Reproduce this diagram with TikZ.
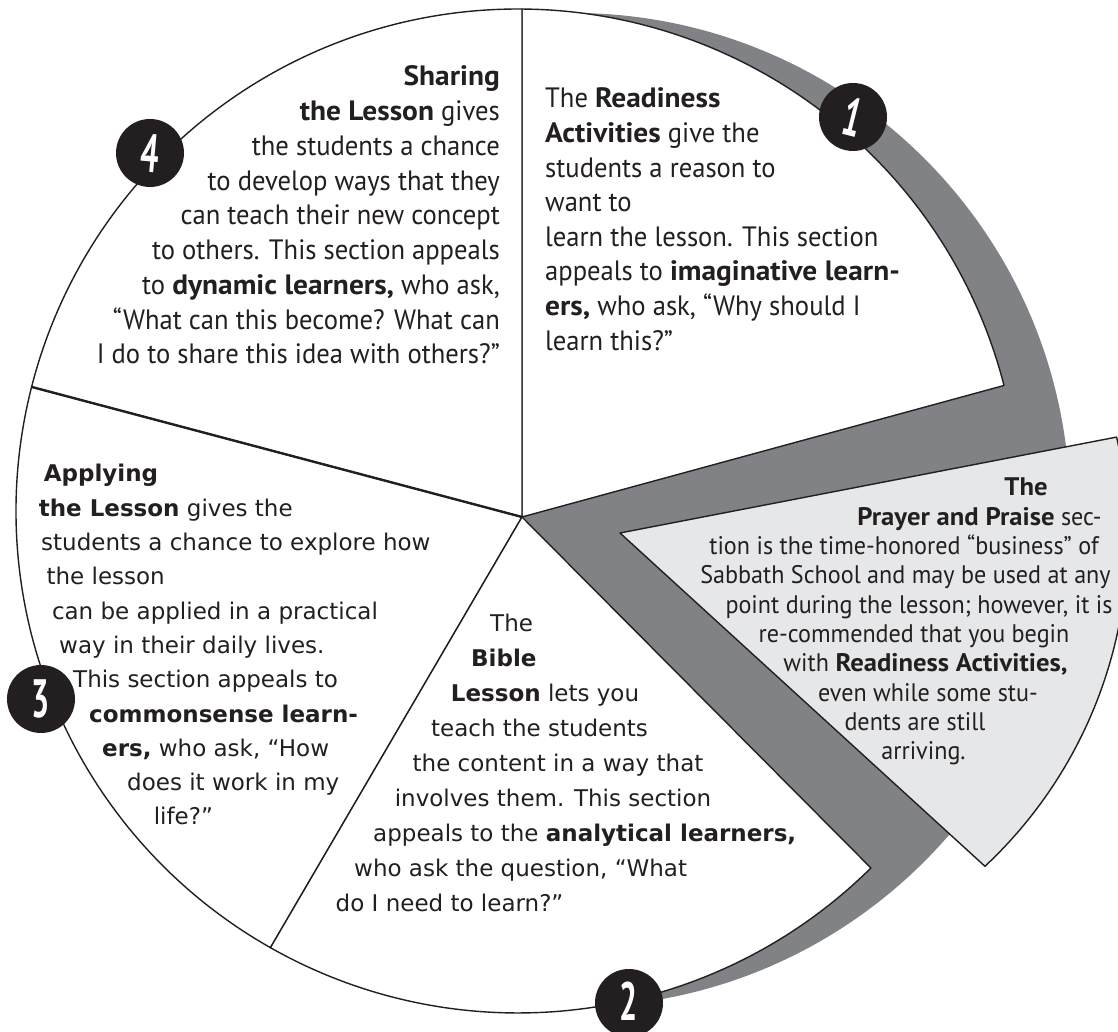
\documentclass[tikz,border=0pt]{standalone}
\usepackage{fontspec}
\setmainfont{PT Sans}
\newfontfamily\myr{PT Sans}[UprightFeatures={FakeStretch=0.95}, BoldFeatures={FakeStretch=1.05}]
\newfontfamily\badgefont{PT Sans}
\newfontfamily\verd{DejaVu Sans}
\usetikzlibrary{calc}
\definecolor{ink}{HTML}{231F20}
\definecolor{band}{HTML}{808285}
\definecolor{wedgegray}{HTML}{E6E7E8}
\begin{document}
\begin{tikzpicture}[x=1pt,y=1pt,
  edgeln/.style={draw=ink, line width=1.4pt, line join=round},
  sectfill/.style={fill=white, edgeln},
  badgenode/.style={circle, fill=ink, minimum size=68pt, inner sep=0pt, text=white,
     font=\badgefont\bfseries\fontsize{40}{40}\selectfont},
  mtxt/.style={inner sep=0pt, text=ink, font=\myr\fontsize{28}{35}\selectfont},
  vtxt/.style={inner sep=0pt, text=ink, anchor=base west, font=\verd\fontsize{23}{34}\selectfont},
  ptxt/.style={inner sep=0pt, text=ink, anchor=base, font=\myr\fontsize{25.4}{29}\selectfont}
]
\useasboundingbox[fill=white] (0,0) rectangle (1118,1032);

\coordinate (C) at (518,521);
\coordinate (H) at (522,515);
\coordinate (G) at (573,522);
\coordinate (L) at (620,499);
\coordinate (W) at (676.8,495);
\coordinate (Ptop) at ($(C)+(89.54:502pt)$);
\coordinate (P1) at ($(C)+(14.48:502pt)$);
\coordinate (P2) at ($(C)+(314.67:502pt)$);
\coordinate (P3) at ($(C)+(240.45:502pt)$);
\coordinate (P4) at ($(C)+(165.69:502pt)$);
\coordinate (U) at ($(W)+(12.8:451pt)$);

% gray band
\fill[band] (G) circle[radius=497pt];

% white sectors
\path[sectfill] (H) -- (Ptop) arc[start angle=89.54, end angle=14.48, radius=502pt] -- cycle;
\path[sectfill] (H) -- (P4) arc[start angle=165.69, end angle=89.54, radius=502pt] -- cycle;
\path[sectfill] (H) -- (P3) arc[start angle=240.45, end angle=165.69, radius=502pt] -- cycle;
\path[sectfill] (H) -- (P2) arc[start angle=314.67, end angle=240.45, radius=502pt] -- cycle;
\draw[draw=ink, line width=2.4pt] (H) -- (P4);

% prayer wedge
\path[fill=wedgegray, edgeln] (L) -- (U) arc[start angle=12.8, end angle=-46.9, radius=451pt] -- cycle;

% badges
\node[badgenode] (b1) at (853,915) {\rotatebox{-14}{\scalebox{0.8}[1.35]{1}}};
\node[badgenode] (b2) at (629,29) {\raisebox{3pt}{\scalebox{0.8}[1.35]{2}}};
\node[badgenode] (b3) at (41,333) {\scalebox{0.8}[1.35]{3}};
\node[badgenode] (b4) at (150,879) {\rotatebox{-5}{\scalebox{0.8}[1.35]{4}}};

% section 4: Sharing the Lesson
\node[mtxt, anchor=base east] (s4a) at (500,946) {\textbf{Sharing}};
\node[mtxt, anchor=base east] (s4b) at (500,911.25) {\textbf{the Lesson} gives};
\node[mtxt, anchor=base east] (s4c) at (500,876.5) {the students a chance};
\node[mtxt, anchor=base east] (s4d) at (500,841.75) {to develop ways that they};
\node[mtxt, anchor=base east] (s4e) at (500,807) {can teach their new concept};
\node[mtxt, anchor=base east] (s4f) at (500,772.25) {to others. This section appeals};
\node[mtxt, anchor=base east] (s4g) at (500,737.5) {to \textbf{dynamic learners,} who ask,};
\node[mtxt, anchor=base east] (s4h) at (500,702.75) {“What can this become? What can};
\node[mtxt, anchor=base east] (s4i) at (500,668) {I do to share this idea with others?”};

% section 1: Readiness Activities
\node[mtxt, anchor=base west] (s1a) at (545,924) {The \textbf{Readiness}};
\node[mtxt, anchor=base west] (s1b) at (545,889.4) {\textbf{Activities} give the};
\node[mtxt, anchor=base west] (s1c) at (545,854.8) {students a reason to};
\node[mtxt, anchor=base west] (s1d) at (545,820.2) {want to};
\node[mtxt, anchor=base west] (s1e) at (545,785.6) {learn the lesson. This section};
\node[mtxt, anchor=base west] (s1f) at (545,751) {appeals to \textbf{imaginative learn-}};
\node[mtxt, anchor=base west] (s1g) at (545,716.4) {\textbf{ers,} who ask, “Why should I};
\node[mtxt, anchor=base west] (s1h) at (545,681.8) {learn this?”};

% section 3: Applying the Lesson
\node[vtxt] (s3a) at (43.6,550) {\textbf{Applying}};
\node[vtxt] (s3b) at (38.6,515.7) {\textbf{the Lesson} gives the};
\node[vtxt] (s3c) at (41,481.4) {students a chance to explore how};
\node[vtxt] (s3d) at (46.4,447.1) {the lesson};
\node[vtxt] (s3e) at (51.8,412.8) {can be applied in a practical};
\node[vtxt] (s3f) at (59,378.5) {way in their daily lives.};
\node[vtxt] (s3g) at (73,344.2) {This section appeals to};
\node[vtxt] (s3h) at (89,309.9) {\textbf{commonsense learn-}};
\node[vtxt] (s3i) at (102,275.6) {\textbf{ers,} who ask, “How};
\node[vtxt] (s3j) at (127,241.3) {does it work in my};
\node[vtxt] (s3k) at (153.6,207) {life?”};

% section 2: Bible Lesson
\node[vtxt] (s2a) at (490,400) {The};
\node[vtxt] (s2b) at (471,365.1) {\textbf{Bible}};
\node[vtxt] (s2c) at (450.7,330.2) {\textbf{Lesson} lets you};
\node[vtxt] (s2d) at (431,295.3) {teach the students};
\node[vtxt] (s2e) at (412.5,260.4) {the content in a way that};
\node[vtxt] (s2f) at (394.6,225.5) {involves them. This section};
\node[vtxt] (s2g) at (373,190.6) {appeals to the \textbf{analytical learners,}};
\node[vtxt] (s2h) at (354,155.7) {who ask the question, “What};
\node[vtxt] (s2i) at (335.5,120.8) {do I need to learn?”};

% prayer and praise
\node[ptxt] (p1) at (1026,536) {\textbf{The}};
\node[ptxt] (p2) at (979.5,506.7) {\textbf{Prayer and Praise} sec-};
\node[ptxt] (p3) at (904,477.4) {tion is the time-honored “business” of};
\node[ptxt] (p4) at (905.5,448.1) {Sabbath School and may be used at any};
\node[ptxt] (p5) at (919,418.8) {point during the lesson; however, it is};
\node[ptxt] (p6) at (914,389.5) {re-commended that you begin};
\node[ptxt] (p7) at (925.5,360.2) {with \textbf{Readiness Activities,}};
\node[ptxt] (p8) at (928,330.9) {even while some stu-};
\node[ptxt] (p9) at (915,301.6) {dents are still};
\node[ptxt] (p10) at (923.5,272.3) {arriving.};
\end{tikzpicture}
\end{document}
